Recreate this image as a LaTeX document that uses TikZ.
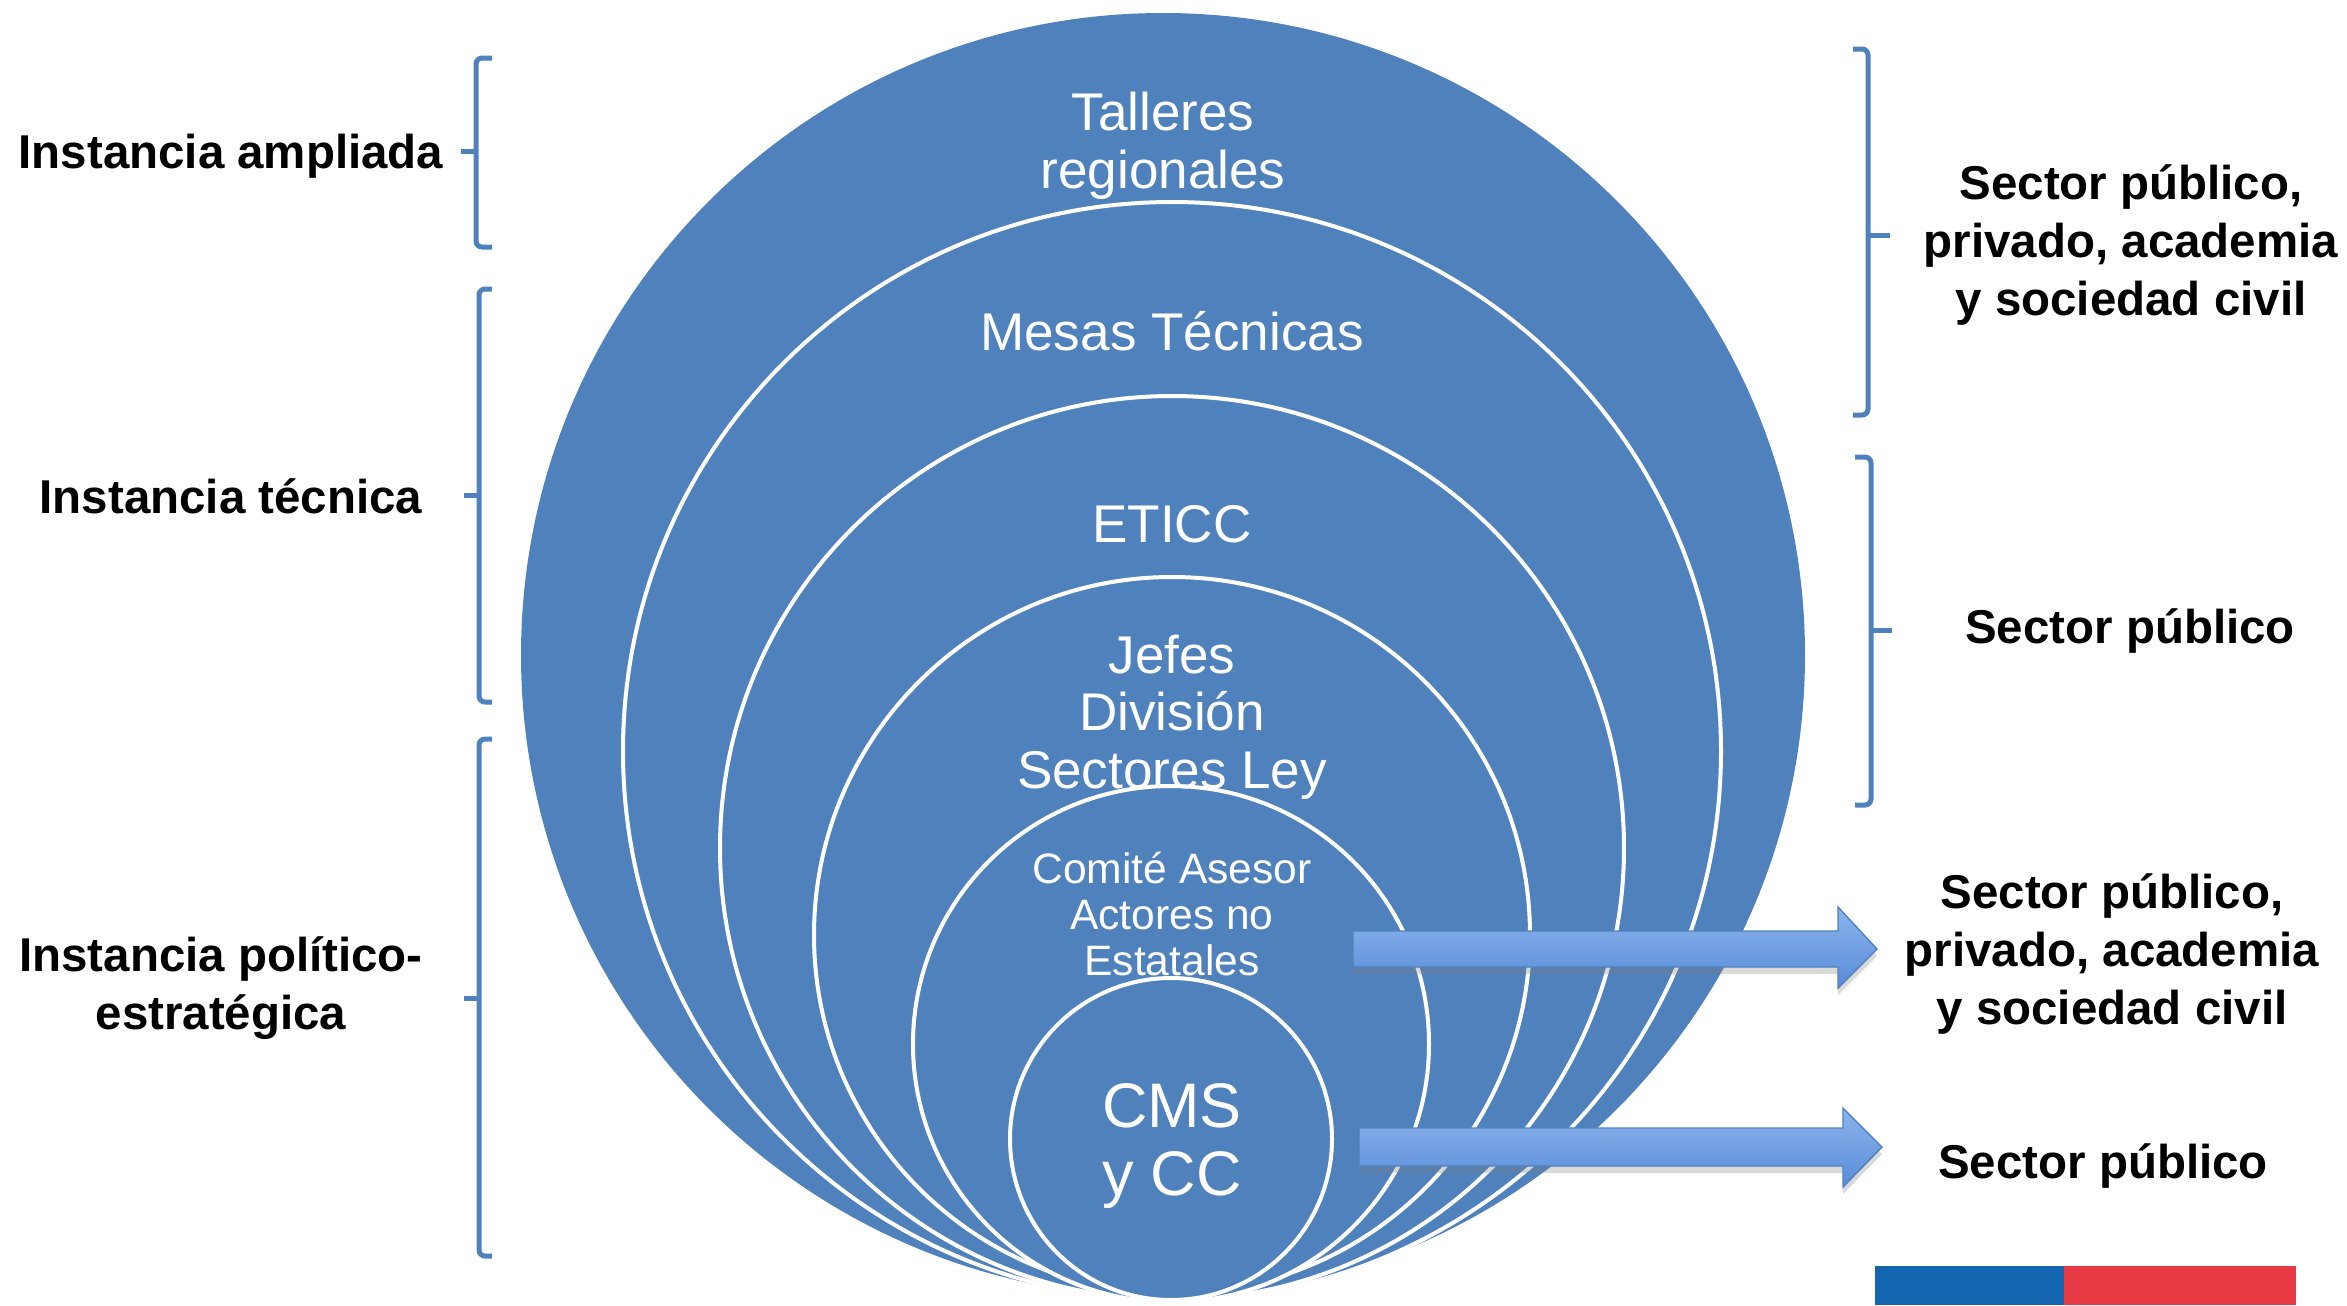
\documentclass[tikz,border=0pt]{standalone}
\usepackage{fontspec}
\setmainfont{Liberation Sans}
\usetikzlibrary{shadows}
\definecolor{ringblue}{RGB}{79,129,189}
\definecolor{arrowtop}{RGB}{141,180,236}
\definecolor{arrowbot}{RGB}{88,140,216}
\definecolor{flagblue}{RGB}{19,101,175}
\definecolor{flagred}{RGB}{232,58,69}

\begin{document}
\begin{tikzpicture}[x=0.01cm, y=-0.01cm,
  ring/.style={fill=ringblue, draw=white, line width=0.04cm},
  intext/.style={text=white, align=center, inner sep=0pt, font=\fontsize{15.1}{16.4}\selectfont},
  sidetext/.style={align=center, inner sep=0pt, font=\fontsize{13.5}{16.6}\selectfont\bfseries},
  bracket/.style={draw=ringblue, line width=0.05cm, rounded corners=0.06cm},
  blockarrow/.style={top color=arrowtop, bottom color=arrowbot, draw=ringblue, line width=0.4pt,
    drop shadow={shadow xshift=0pt, shadow yshift=-2pt, opacity=0.3}}]
\useasboundingbox (0,0) rectangle (2347,1305);
% rings
\fill[ringblue] (1163,655) circle[radius=642];
\draw[ring] (1172,751) circle[radius=549];
\draw[ring] (1172,848) circle[radius=452];
\draw[ring] (1172,935) circle[radius=358];
\draw[ring] (1171,1044) circle[radius=258];
\draw[ring] (1171,1139) circle[radius=161];
\node[intext] (talleres) at (1163,146) {Talleres\\regionales};
\node[intext] (mesas) at (1172,331) {Mesas Técnicas};
\node[intext] (eticc) at (1172,524) {ETICC};
\node[intext] (jefes) at (1172,717) {Jefes\\División\\Sectores Ley};
\node[intext, font=\fontsize{12.1}{13.2}\selectfont] (comite) at (1172,914) {Comité Asesor\\Actores no\\Estatales};
\node[intext, font=\fontsize{17.9}{19.6}\selectfont] (cms) at (1172,1146) {CMS\\y CC};
% left side
\node[sidetext] (ampliada) at (231,156) {Instancia ampliada};
\node[sidetext] (tecnica) at (231,496) {Instancia técnica};
\node[sidetext] (politica) at (221,988) {Instancia político-\\estratégica};
\draw[bracket] (492,58) -- (476,58) -- (476,247) -- (492,247);
\draw[bracket] (476,151) -- (461,151);
\draw[bracket] (492,289) -- (479,289) -- (479,702) -- (492,702);
\draw[bracket] (479,495) -- (464,495);
\draw[bracket] (492,739) -- (479,739) -- (479,1256) -- (492,1256);
\draw[bracket] (479,998) -- (464,998);
% right side
\draw[bracket] (1853,49) -- (1868,49) -- (1868,415) -- (1853,415);
\draw[bracket] (1868,235) -- (1890,235);
\draw[bracket] (1855,457) -- (1871,457) -- (1871,805) -- (1855,805);
\draw[bracket] (1871,630) -- (1892,630);
\node[sidetext] (mixto1) at (2131,245) {Sector público,\\privado, academia\\y sociedad civil};
\node[sidetext] (publico1) at (2130,631) {Sector público};
\node[sidetext] (mixto2) at (2112,954) {Sector público,\\privado, academia\\y sociedad civil};
\node[sidetext] (publico2) at (2103,1166) {Sector público};
% arrows
\path[blockarrow] (1353,931) -- (1838,931) -- (1838,907) -- (1877,949) -- (1838,988) -- (1838,967) -- (1353,967) -- cycle;
\path[blockarrow] (1359,1128) -- (1843,1128) -- (1843,1108) -- (1882,1147) -- (1843,1187) -- (1843,1166) -- (1359,1166) -- cycle;
% flag
\fill[flagblue] (1875,1266) rectangle (2064,1305);
\fill[flagred] (2064,1266) rectangle (2296,1305);
\end{tikzpicture}
\end{document}
